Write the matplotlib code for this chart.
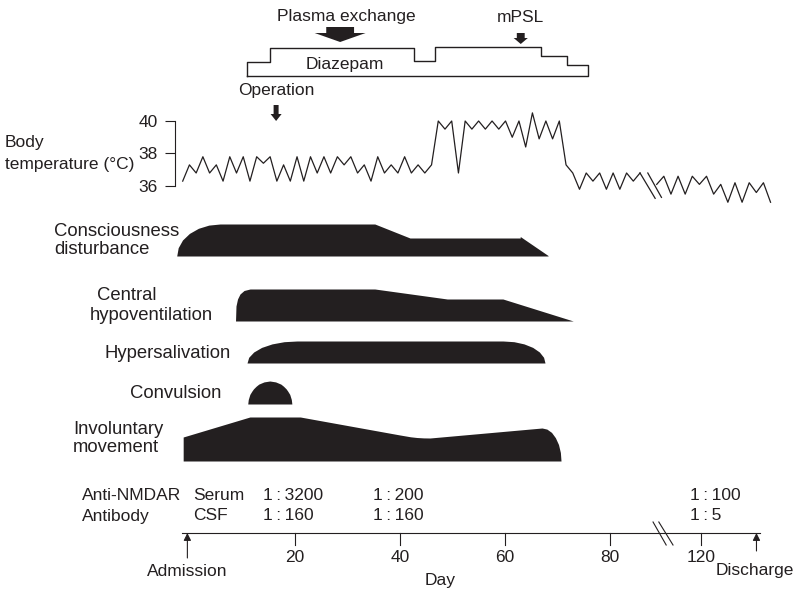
import numpy as np
import matplotlib
matplotlib.use('Agg')
import matplotlib.pyplot as plt

plt.rcParams['font.family'] = ['Liberation Sans', 'DejaVu Sans']
INK = '#231f20'
FS = 12.5
FS_SYM = 13.3

# body temperature (deg C) before and after the axis break
temp_a = [36.3, 37.3, 36.8, 37.8, 36.8, 37.3, 36.3, 37.8, 36.8, 37.8,
          36.3, 37.8, 37.4, 37.8, 36.3, 37.3, 36.3, 37.8, 36.3, 37.8,
          36.8, 37.8, 36.8, 37.8, 37.3, 37.8, 36.8, 37.3, 36.3, 37.8,
          36.8, 37.3, 36.8, 37.8, 36.8, 37.3, 36.8, 37.3, 40.0, 39.5,
          40.0, 36.8, 40.0, 39.5, 40.0, 39.5, 40.0, 39.5, 40.0, 39.0,
          40.0, 38.4, 40.5, 38.9, 40.0, 38.9, 40.0, 37.3, 36.8, 35.8,
          36.8, 36.3, 36.8, 35.8, 36.8, 35.8, 36.8, 36.3, 36.8]
temp_b = [36.1, 36.6, 35.5, 36.6, 35.5, 36.6, 36.1, 36.6, 35.5, 36.1,
          35.0, 36.2, 35.0, 36.2, 35.6, 36.2, 35.0]
temp_a_start, temp_a_step = -1.39, 1.281
temp_b_start, temp_b_step = 88.9, 1.355

# symptom bands: position on day axis, band height
cons_x = [-2.53, -2.25, -1.43, -0.11, 1.6, 3.58, 5.71, 35.2, 41.9, 62.9, 62.9, 68.2]
cons_h = [0, 8.3, 16, 22.6, 27.7, 30.9, 32, 32, 18, 18, 19.5, 0.5]
hypo_x = [8.67, 8.76, 9.05, 9.52, 10.29, 11.43, 35.2, 49.0, 59.6, 73.0]
hypo_h = [0, 15, 22, 27, 30.5, 32, 32, 22, 22, 0]
sal_x = [10.86, 11.18, 12.13, 13.64, 15.62, 17.92, 20.38,
         59.62, 61.7, 63.62, 65.28, 66.55, 67.35, 67.62]
sal_h = [0, 5.7, 11, 15.6, 19.1, 21.3, 22, 22, 21.3, 19.1, 15.6, 11, 5.7, 0]
conv_x = [11.0, 11.1, 11.4, 11.8, 12.1, 12.6, 13.1, 14.1, 15.2,
          16.3, 17.3, 17.8, 18.3, 18.6, 19.0, 19.3, 19.4]
conv_h = [0, 4.5, 9.6, 13, 15.2, 17.8, 19.9, 22.1, 23,
          22.1, 19.9, 17.8, 15.2, 13, 9.6, 4.5, 0]
inv_x = [-1.3, -1.3, 11.4, 21.0, 40.0, 42.0, 43.2, 44.5, 45.7, 67.05,
         67.98, 68.86, 69.6, 70.19, 70.55, 70.67]
inv_h = [0, 24, 44, 44, 26, 24.2, 23.5, 23.1, 23, 33,
         31.9, 28.6, 23.3, 16.5, 8.5, 0]

# diazepam dose steps
diaz_x = [10.86, 15.24, 42.67, 46.67, 66.86, 71.81, 75.81]
diaz_lv = [14, 28, 15, 29, 20, 11]

# anti-NMDAR titres
titre_x = [13.9, 34.9, 95.2]
serum = ['1\u2009:\u20093200', '1\u2009:\u2009200', '1\u2009:\u2009100']
csf = ['1\u2009:\u2009160', '1\u2009:\u2009160', '1\u2009:\u20095']

tick_x = [20, 40, 60, 80, 97.3]
tick_lab = ['20', '40', '60', '80', '120']

XL = (-190 / 5.25, 610 / 5.25)


def down_arrow(ax, x, top, tip, shaft_w, head_w, head_len):
    neck = tip - head_len
    px = [x - shaft_w / 2, x + shaft_w / 2, x + shaft_w / 2, x + head_w / 2,
          x, x - head_w / 2, x - shaft_w / 2]
    py = [top, top, neck, neck, tip, neck, neck]
    ax.fill(px, py, color=INK, lw=0)


fig = plt.figure(figsize=(8, 5.96), dpi=100)
ax = fig.add_axes([0, 0, 1, 1])
ax.set_xlim(*XL)
ax.set_ylim(596, 0)
ax.axis('off')

# regimen box
bx = [diaz_x[0]]
by = [76]
for i, lv in enumerate(diaz_lv):
    bx += [diaz_x[i], diaz_x[i + 1]]
    by += [76 - lv, 76 - lv]
bx += [diaz_x[-1], diaz_x[0]]
by += [76, 76]
ax.plot(bx, by, color=INK, lw=1.0)
ax.text(29.5, 65, 'Diazepam', fontsize=FS, ha='center', va='center', color=INK)
ax.text(29.7, 17, 'Plasma exchange', fontsize=FS, ha='center', va='center', color=INK)
ax.text(63.0, 17, 'mPSL', fontsize=FS, ha='center', va='center', color=INK)
ax.text(16.5, 91, 'Operation', fontsize=FS, ha='center', va='center', color=INK)
down_arrow(ax, 28.6, 27, 42, 5.3, 9.7, 9)
down_arrow(ax, 63.0, 33, 44, 1.5, 2.7, 6)
down_arrow(ax, 16.4, 105, 121, 0.95, 2.1, 7)

# symptom bands
bands = [(256, cons_x, cons_h), (321, hypo_x, hypo_h), (363, sal_x, sal_h),
         (404, conv_x, conv_h), (461, inv_x, inv_h)]
for base, xs, hs in bands:
    ax.fill_between(xs, base, base - np.array(hs), color=INK, lw=0)

labels = [(5, 143, 'Body', FS), (5, 165, 'temperature (\u00b0C)', FS),
          (54, 231, 'Consciousness', FS_SYM), (54, 250, 'disturbance', FS_SYM),
          (97, 296, 'Central', FS_SYM), (90, 315, 'hypoventilation', FS_SYM),
          (105, 353, 'Hypersalivation', FS_SYM), (130, 394, 'Convulsion', FS_SYM),
          (73, 430, 'Involuntary', FS_SYM), (73, 448, 'movement', FS_SYM),
          (82, 495, 'Anti-NMDAR', FS), (82, 516, 'Antibody', FS),
          (193, 495, 'Serum', FS), (193, 516, 'CSF', FS)]
for px, py, s, fs in labels:
    ax.text((px - 190) / 5.25, py, s, fontsize=fs, ha='left', va='center', color=INK)

for x, s1, s2 in zip(titre_x, serum, csf):
    ax.text(x, 495, s1, fontsize=FS, ha='left', va='center', color=INK)
    ax.text(x, 516, s2, fontsize=FS, ha='left', va='center', color=INK)

# day axis
ax.plot([-1.5, 108.6], [533, 533], color=INK, lw=0.8)
for x, lab in zip(tick_x, tick_lab):
    ax.plot([x, x], [533, 545], color=INK, lw=0.8)
    ax.text(x, 558, lab, fontsize=FS, ha='center', va='center', color=INK)
ax.plot([88.2, 90.7], [522, 545], color=INK, lw=0.8)
ax.plot([89.3, 92.0], [522, 545], color=INK, lw=0.8)
for x, y0 in [(-0.5, 558), (107.9, 551)]:
    ax.annotate('', xy=(x, 533), xytext=(x, y0),
                arrowprops=dict(arrowstyle='-|>', color=INK, lw=0.8,
                                mutation_scale=11, shrinkA=0, shrinkB=0))
ax.text(-0.5, 571, 'Admission', fontsize=FS, ha='center', va='center', color=INK)
ax.text(100.2, 571, 'Discharge', fontsize=FS, ha='left', va='center', color=INK)
ax.text(47.6, 581, 'Day', fontsize=FS, ha='center', va='center', color=INK)

# temperature panel
ax_t = fig.add_axes([0, 386 / 596, 1, 110 / 596])
ax_t.patch.set_visible(False)
ax_t.set_xlim(*XL)
ax_t.set_ylim(34.523, 41.292)
for s in ['top', 'right', 'bottom']:
    ax_t.spines[s].set_visible(False)
ax_t.spines['left'].set_position(('data', -2.857))
ax_t.spines['left'].set_bounds(36, 40)
ax_t.spines['left'].set_color(INK)
ax_t.spines['left'].set_linewidth(0.8)
ax_t.set_yticks([36, 38, 40])
ax_t.tick_params(axis='y', direction='out', length=7.2, width=0.8, pad=5,
                 labelsize=FS, colors=INK)
ax_t.set_xticks([])

ta_x = temp_a_start + temp_a_step * np.arange(len(temp_a))
tb_x = temp_b_start + temp_b_step * np.arange(len(temp_b))
ax_t.plot(ta_x, temp_a, color=INK, lw=0.9)
ax_t.plot(tb_x, temp_b, color=INK, lw=0.9)
ax_t.plot([ta_x[-1], 88.6], [temp_a[-1], 35.24], color=INK, lw=0.9)
ax_t.plot([87.2, 89.8], [36.8, 35.3], color=INK, lw=0.9)

fig.savefig('out.png', dpi=100)
